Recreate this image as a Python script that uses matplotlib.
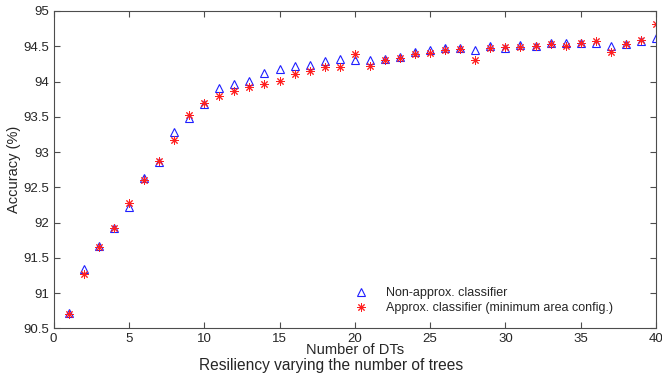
import numpy as np
import matplotlib
matplotlib.use('Agg')
import matplotlib.pyplot as plt

# number of decision trees
nTrees = list(range(1, 41))

# accuracy (%) of the non-approximated classifier
nonApprox = [90.72, 91.35, 91.67, 91.92, 92.22, 92.63, 92.86, 93.28, 93.49, 93.68,
             93.91, 93.96, 94.01, 94.12, 94.18, 94.22, 94.23, 94.29, 94.32, 94.31,
             94.31, 94.32, 94.35, 94.42, 94.44, 94.47, 94.47, 94.44, 94.50, 94.47,
             94.52, 94.51, 94.55, 94.54, 94.55, 94.55, 94.50, 94.53, 94.58, 94.62]

# accuracy (%) of the approximated classifier (minimum area config.)
approx = [90.71, 91.27, 91.66, 91.93, 92.28, 92.61, 92.87, 93.17, 93.53, 93.69,
          93.80, 93.87, 93.92, 93.96, 94.01, 94.10, 94.15, 94.20, 94.21, 94.39,
          94.22, 94.30, 94.33, 94.39, 94.40, 94.45, 94.46, 94.30, 94.47, 94.49,
          94.49, 94.50, 94.53, 94.50, 94.54, 94.58, 94.42, 94.53, 94.59, 94.81]

xTicks = [0, 5, 10, 15, 20, 25, 30, 35, 40]
yTicks = [90.5, 91, 91.5, 92, 92.5, 93, 93.5, 94, 94.5, 95]

plt.rcParams['font.family'] = ['Liberation Sans', 'DejaVu Sans']
axisGrey = '#4d4d4d'
textGrey = '#262626'

fig = plt.figure(figsize=(6.62, 3.78), dpi=100)
ax = fig.add_axes([0.081, 0.131, 0.910, 0.840])

ax.plot(nTrees, nonApprox, linestyle='none', marker='^', markersize=6.2,
        markerfacecolor='none', markeredgecolor='#1f1fff', markeredgewidth=0.8,
        label='Non-approx. classifier')
ax.plot(nTrees, approx, linestyle='none', marker=(8, 2, 0), markersize=6,
        markeredgecolor='#ff2020', markeredgewidth=0.7, color='#ff2020',
        label='Approx. classifier (minimum area config.)')

ax.set_xlim(0, 40)
ax.set_ylim(90.5, 95)
ax.set_xticks(xTicks)
ax.set_yticks(yTicks)
ax.set_yticklabels(['%g' % t for t in yTicks])
ax.tick_params(direction='in', top=True, right=True, length=4, width=0.8,
               colors=axisGrey, labelcolor=textGrey, labelsize=9.5, pad=3)
for s in ax.spines.values():
    s.set_color(axisGrey)
    s.set_linewidth(0.8)

ax.set_xlabel('Number of DTs', fontsize=10.5, color=textGrey, labelpad=-1)
ax.set_ylabel('Accuracy (%)', fontsize=10.5, color=textGrey, labelpad=2)

ax.legend(loc='lower left', bbox_to_anchor=(0.482, 0.01), frameon=False,
          numpoints=1, handlelength=1.0, handletextpad=1.5, labelspacing=0.25,
          fontsize=9, labelcolor=textGrey)

fig.text(0.5, 0.012, 'Resiliency varying the number of trees', ha='center',
         va='bottom', fontsize=11.2, color=textGrey)

fig.savefig('out.png', dpi=100)
